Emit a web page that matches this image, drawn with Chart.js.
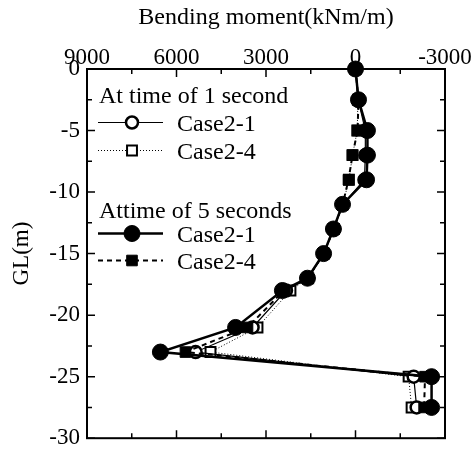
<!DOCTYPE html>
<html>
<head>
<meta charset="utf-8">
<script src="https://cdn.jsdelivr.net/npm/chart.js@4.4.0/dist/chart.umd.min.js"></script>
<style>
  html, body { margin: 0; padding: 0; background: #fff; }
</style>
</head>
<body>
<canvas id="momentChart" width="476" height="459"></canvas>
<script>
// Depth (GL, m) and bending moment (kNm/m) along the pile
const depths = [0, -2.5, -5, -7, -9, -11, -13, -15, -17, -18, -21, -23, -25, -27.5];
const case21At5s = [0, -100, -400, -400, -370, 435, 740, 1070, 1610, 2450, 4020, 6540, -2550, -2550];
const case24At5s = [0, -100, -70, 100, 235, 430, 735, 1065, 1600, 2400, 3620, 5700, -2330, -2300];
const case21At1s = [0, -90, -330, -330, -300, 425, 730, 1060, 1590, 2330, 3450, 5360, -1950, -2050];
const case24At1s = [0, -80, -60, 100, 220, 420, 725, 1055, 1585, 2180, 3285, 4860, -1780, -1880];

const SERIF = '"Liberation Serif", "Times New Roman", serif';
const tickFont = { family: SERIF, size: 23 };
const textFont = { family: SERIF, size: 24 };

const toPoints = vals => depths.map((d, i) => ({ x: vals[i], y: d }));

// line / marker styles, reused by the legend
const styles = {
  c21s5: { borderWidth: 2.5, borderDash: [], pointStyle: 'circle', pointRadius: 8, fill: '#000', pointBorderWidth: 1 },
  c24s5: { borderWidth: 2, borderDash: [5, 4], pointStyle: 'rect', pointRadius: 7.5, fill: '#000', pointBorderWidth: 1 },
  c21s1: { borderWidth: 1.2, borderDash: [], pointStyle: 'circle', pointRadius: 6, fill: '#fff', pointBorderWidth: 2.5 },
  c24s1: { borderWidth: 1, borderDash: [1, 2], pointStyle: 'rect', pointRadius: 7, fill: '#fff', pointBorderWidth: 2 }
};

function makeSet(label, vals, st) {
  return {
    label, data: toPoints(vals),
    borderColor: '#000', borderWidth: st.borderWidth, borderDash: st.borderDash,
    pointStyle: st.pointStyle, pointRadius: st.pointRadius,
    pointBackgroundColor: st.fill, pointBorderColor: '#000', pointBorderWidth: st.pointBorderWidth,
    tension: 0, fill: false, clip: false
  };
}

// plot frame with inward ticks on all four sides
const framePlugin = {
  id: 'frame',
  beforeDatasetsDraw(chart) {
    const { ctx, chartArea: a, scales: { x, y } } = chart;
    ctx.save();
    ctx.strokeStyle = '#000';
    ctx.lineWidth = 1.5;
    ctx.beginPath();
    x.ticks.forEach(t => {
      const px = x.getPixelForValue(t.value);
      const len = t.value % 3000 === 0 ? 8 : 5;
      ctx.moveTo(px, a.top); ctx.lineTo(px, a.top + len);
      ctx.moveTo(px, a.bottom); ctx.lineTo(px, a.bottom - len);
    });
    y.ticks.forEach(t => {
      const py = y.getPixelForValue(t.value);
      const len = t.value % 5 === 0 ? 8 : 5;
      ctx.moveTo(a.left, py); ctx.lineTo(a.left + len, py);
      ctx.moveTo(a.right, py); ctx.lineTo(a.right - len, py);
    });
    ctx.stroke();
    ctx.lineWidth = 2;
    ctx.strokeRect(a.left, a.top, a.right - a.left, a.bottom - a.top);
    ctx.restore();
  }
};

function drawMarker(ctx, st, cx, cy) {
  ctx.fillStyle = st.fill;
  ctx.lineWidth = st.pointBorderWidth;
  ctx.setLineDash([]);
  ctx.beginPath();
  if (st.pointStyle === 'circle') {
    ctx.arc(cx, cy, st.pointRadius, 0, Math.PI * 2);
  } else {
    const h = st.pointRadius * Math.SQRT1_2;
    ctx.rect(cx - h, cy - h, h * 2, h * 2);
  }
  ctx.fill();
  ctx.stroke();
}

// grouped legend: two headings, two entries each
const legendPlugin = {
  id: 'groupedLegend',
  afterDraw(chart) {
    const ctx = chart.ctx;
    ctx.save();
    ctx.font = `24px ${SERIF}`;
    ctx.strokeStyle = '#000';
    ctx.textBaseline = 'alphabetic';
    const rows = [
      { head: 'At time of 1 second', y: 103 },
      { key: 'c21s1', text: 'Case2-1', y: 122.5 },
      { key: 'c24s1', text: 'Case2-4', y: 150.5 },
      { head: 'Attime of 5 seconds', y: 218 },
      { key: 'c21s5', text: 'Case2-1', y: 233.5 },
      { key: 'c24s5', text: 'Case2-4', y: 260.5 }
    ];
    rows.forEach(r => {
      ctx.fillStyle = '#000';
      if (r.head) {
        ctx.fillText(r.head, 99, r.y);
        return;
      }
      const st = styles[r.key];
      ctx.lineWidth = st.borderWidth;
      ctx.setLineDash(st.borderDash);
      ctx.beginPath();
      ctx.moveTo(98, r.y); ctx.lineTo(163, r.y);
      ctx.stroke();
      drawMarker(ctx, st, 132, r.y);
      ctx.fillStyle = '#000';
      ctx.fillText(r.text, 177, r.y + 8);
    });
    ctx.restore();
  }
};

new Chart(document.getElementById('momentChart'), {
  type: 'line',
  data: {
    datasets: [
      makeSet('Case2-1 (5 s)', case21At5s, styles.c21s5),
      makeSet('Case2-4 (5 s)', case24At5s, styles.c24s5),
      makeSet('Case2-1 (1 s)', case21At1s, styles.c21s1),
      makeSet('Case2-4 (1 s)', case24At1s, styles.c24s1)
    ]
  },
  options: {
    responsive: false,
    animation: false,
    layout: { padding: { left: 0, top: 0, right: 31, bottom: 11 } },
    plugins: { legend: { display: false }, tooltip: { enabled: false } },
    scales: {
      x: {
        type: 'linear', position: 'top', reverse: true, min: -3000, max: 9000,
        grid: { display: false, drawTicks: false }, border: { display: false },
        ticks: { stepSize: 1500, padding: -3, autoSkip: false, maxRotation: 0, color: '#000', font: tickFont,
          callback: v => (v % 3000 === 0 ? String(v) : '') },
        title: { display: true, text: 'Bending moment(kNm/m)', color: '#000', font: textFont, padding: { top: 3, bottom: 0 } },
        afterFit: s => { s.height = 69; }
      },
      y: {
        type: 'linear', position: 'left', min: -30, max: 0,
        grid: { display: false, drawTicks: false }, border: { display: false },
        ticks: { stepSize: 2.5, padding: 7, autoSkip: false, color: '#000', font: tickFont,
          callback: v => (v % 5 === 0 ? String(v) : '') },
        title: { display: true, text: 'GL(m)', color: '#000', font: { family: SERIF, size: 23 }, padding: { top: 8, bottom: 0 } },
        afterFit: s => { s.width = 87; }
      }
    }
  },
  plugins: [framePlugin, legendPlugin]
});
</script>
</body>
</html>
